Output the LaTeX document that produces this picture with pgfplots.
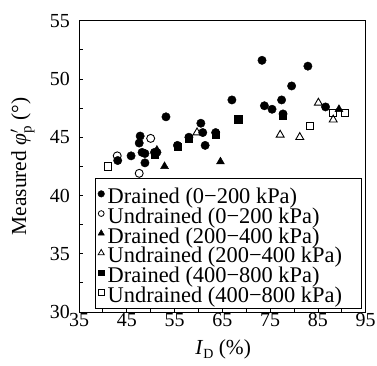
\documentclass[border=0pt]{standalone}
\usepackage{amsmath}
\usepackage{fontspec}
\setmainfont{Liberation Serif}
\usepackage{pgfplots}
\pgfplotsset{compat=1.18}
\pgfplotsset{
  limg/.style={only marks, legend image code/.code={\path[draw=none,fill=none] (-3.5bp,-1bp) rectangle (3.5bp,1bp); \draw[##1] plot coordinates {(0bp,0bp)};}},
}
\begin{document}
\begin{tikzpicture}
\begin{axis}[name=ax, scale only axis, width=286.7bp, height=291.3bp,
  xmin=35, xmax=95, ymin=30, ymax=55,
  xtick={35,45,...,95}, minor xtick={40,50,...,90},
  ytick={30,35,...,55}, minor ytick={32.5,37.5,...,52.5},
  tick pos=left, tick align=inside,
  major tick length=4bp, minor tick length=4bp,
  axis line style={line width=0.9bp},
  every tick/.style={line width=0.8bp, black},
  /pgf/number format/assume math mode=true,
  ticklabel style={font=\fontsize{20}{24}\selectfont, inner sep=0pt},
  xticklabel style={yshift=-1.5bp},
  yticklabel style={xshift=-9bp},
  xlabel={\textit{I}\raisebox{-0.35ex}{\fontsize{14}{14}\selectfont D} (\%)},
  xlabel style={font=\fontsize{21.5}{24}\selectfont, inner sep=0pt, at={(axis description cs:0.503,-0.147)}, anchor=base},
  ylabel={Measured $\textit{φ}'_{\textrm{p}}$ (°)},
  ylabel style={font=\fontsize{21.5}{24}\selectfont, inner sep=0pt, at={(axis description cs:-0.154,0.5)}, anchor=south},
  legend cell align=left,
  legend style={at={(axis description cs:0.0583,0.0113)}, anchor=south west,
    font=\fontsize{22.5}{24}\selectfont, draw=none, fill=none,
    inner xsep=1.8bp, inner ysep=6.3bp, column sep=3bp,
    nodes={inner sep=0pt, text height=19.7bp, text depth=0bp, line width=0.9bp}},
]
\addlegendimage{limg, mark=*, mark size=3.3bp, black}
\addlegendentry{Drained (0−200 kPa)}
\addlegendimage{limg, mark=o, mark size=2.9bp, black, line width=0.8bp}
\addlegendentry{Undrained (0−200 kPa)}
\addlegendimage{limg, mark=triangle*, mark size=3.6bp, black}
\addlegendentry{Drained (200−400 kPa)}
\addlegendimage{limg, mark=triangle, mark size=3.5bp, black, line width=0.8bp}
\addlegendentry{Undrained (200−400 kPa)}
\addlegendimage{limg, mark=square*, mark size=2.8bp, black}
\addlegendentry{Drained (400−800 kPa)}
\addlegendimage{limg, mark=square, mark size=2.7bp, black, line width=0.8bp}
\addlegendentry{Undrained (400−800 kPa)}

% Undrained 400-800 kPa
\addplot[forget plot, only marks, mark=square, mark size=3.6bp, line width=0.9bp, black] coordinates {
(41.0,42.5) (83.3,46.0) (88.2,47.1) (90.6,47.1)};
% Drained 400-800 kPa
\addplot[forget plot, only marks, mark=square*, mark size=3.6bp, black] coordinates {
(68.3,46.55) (77.7,46.85) (63.6,45.25) (58.0,44.85) (55.6,44.2) (50.8,43.5)};
% Undrained 200-400 kPa
\addplot[forget plot, only marks, mark=triangle, mark size=4.6bp, line width=0.9bp, black] coordinates {
(85.1,47.95) (88.2,46.5) (77.1,45.2) (81.2,45.0) (59.7,45.4)};
% Drained 200-400 kPa
\addplot[forget plot, only marks, mark=triangle*, mark size=4.6bp, black] coordinates {
(89.4,47.4) (64.6,42.9) (52.9,42.5) (51.3,43.9)};
% Undrained 0-200 kPa
\addplot[forget plot, only marks, mark=o, mark size=4.0bp, line width=0.9bp, black] coordinates {
(43.0,43.4) (50.0,44.9) (47.6,41.9)};
% Drained 0-200 kPa
\addplot[forget plot, only marks, mark=*, mark size=4.2bp, black] coordinates {
(73.3,51.6) (82.9,51.1) (79.5,49.4) (67.0,48.2) (73.8,47.7) (75.4,47.4)
(77.4,48.2) (77.7,47.0) (86.6,47.6) (53.2,46.75) (60.5,46.2) (60.9,45.4)
(63.6,45.4) (58.0,45.0) (61.4,44.3) (55.6,44.3) (47.8,45.1) (47.6,44.5)
(48.2,43.7) (48.8,43.6) (50.8,43.7) (51.3,43.7) (48.8,42.8) (45.9,43.4)
(43.1,43.0)};
\end{axis}
% legend frame
\draw[line width=0.9bp] ([shift={(16.7bp,3.3bp)}]ax.south west) rectangle ([shift={(282.7bp,133.3bp)}]ax.south west);
\pgfresetboundingbox
\path ([shift={(-79bp,-53bp)}]ax.south west) rectangle ([shift={(11.3bp,20.7bp)}]ax.north east);
\end{tikzpicture}
\end{document}
